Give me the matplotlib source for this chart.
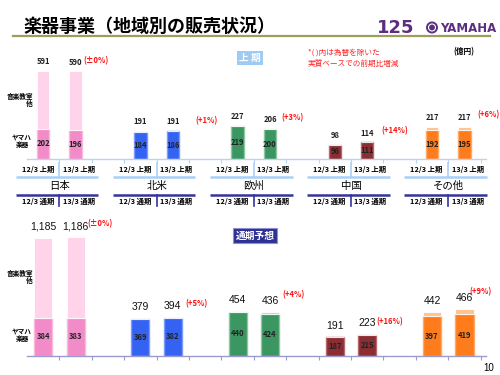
import matplotlib as mpl
import numpy as np
from matplotlib import pyplot as plt
from matplotlib import transforms
from matplotlib.patches import Circle

plt.rcParams['font.family'] = ['Noto Sans CJK JP', 'DejaVu Sans']

regions = ['日本', '北米', '欧州', '中国', 'その他']

# first half (上期): total and Yamaha-instrument part
h1_total_prev = [591, 191, 227, 98, 217]
h1_total_curr = [590, 191, 206, 114, 217]
h1_inst_prev = [202, 184, 219, 96, 192]
h1_inst_curr = [196, 186, 200, 111, 195]
h1_change = ['(±0%)', '(+1%)', '(+3%)', '(+14%)', '(+6%)']

# full year forecast (通期予想)
fy_total_prev = [1185, 379, 454, 191, 442]
fy_total_curr = [1186, 394, 436, 223, 466]
fy_inst_prev = [384, 369, 440, 187, 397]
fy_inst_curr = [383, 382, 424, 215, 419]
fy_change = ['(±0%)', '(+5%)', '(+4%)', '(+16%)', '(+9%)']

h1_periods = ['12/3 上期', '13/3 上期']
fy_periods = ['12/3 通期', '13/3 通期']

# outer (音楽教室他), inner (ヤマハ楽器), inner edge
colors = [('#FFD3EA', '#F28CC8', '#F9B8DC'),
          ('#9DB6FF', '#3462F2', '#7F9CF8'),
          ('#B9DEC6', '#3C9662', '#8CC7A2'),
          ('#C98A8A', '#8A2E34', '#B76A6E'),
          ('#FFC494', '#FF7C1C', '#FFAA66')]

PX = 0.72  # points per pixel at dpi 100


def draw_panel(ax, tot_prev, tot_curr, inst_prev, inst_curr, changes, width,
               total_kw, inner_kw, total_dy, pct_dx, pct_dy, axis_color):
	for g in range(len(regions)):
		outer_c, inner_c, edge_c = colors[g]
		pairs = [(tot_prev[g], inst_prev[g]), (tot_curr[g], inst_curr[g])]
		for k, (tot, inst) in enumerate(pairs):
			x = g * 3 + k
			ax.bar(x, inst, width=width, color=inner_c, edgecolor=edge_c, linewidth=1.0)
			ax.bar(x, tot - inst, bottom=inst, width=width, color=outer_c, edgecolor='white', linewidth=0.6)
			ax.annotate(f'{tot:,}', (x, tot), xytext=(0, total_dy * PX), textcoords='offset points',
			            ha='center', va='center', **total_kw)
			ax.text(x, inst / 2, str(inst), ha='center', va='center', **inner_kw)
		ax.annotate(changes[g], (g * 3 + 1, tot_curr[g]), xytext=(pct_dx[g] * PX, pct_dy[g] * PX),
		            textcoords='offset points', ha='left', va='center', color='#FF1010',
		            fontsize=5.5, fontweight='bold')
	ax.set_xlim(-0.5, 13.65)
	for s in ['top', 'right', 'left']:
		ax.spines[s].set_visible(False)
	ax.spines['bottom'].set_color(axis_color)
	ax.spines['bottom'].set_linewidth(1.0)
	ax.set_yticks([])
	ax.set_xticks(np.arange(0.5, 13.6, 1))
	ax.tick_params(axis='x', length=3, color=axis_color, labelbottom=False)
	ax.patch.set_alpha(0)


fig = plt.figure(figsize=(5, 3.75), dpi=100)
fig.patch.set_facecolor('white')

ax1 = fig.add_axes([27 / 500, 1 - 159 / 375, 458.5 / 500, 99 / 375])
ax1.set_ylim(0, 99 / 0.149)
draw_panel(ax1, h1_total_prev, h1_total_curr, h1_inst_prev, h1_inst_curr, h1_change, 0.38,
           dict(fontsize=5.5, fontweight='bold', color='#222222'),
           dict(fontsize=5.5, fontweight='bold', color='#222222'),
           9, [8, 23, 11, 14, 13], [10, 10, 11, 11, 12], '#B8D4F4')

ax2 = fig.add_axes([27 / 500, 1 - 356 / 375, 458.5 / 500, 126 / 375])
ax2.set_ylim(0, 126 / 0.1)
draw_panel(ax2, fy_total_prev, fy_total_curr, fy_inst_prev, fy_inst_curr, fy_change, 0.56,
           dict(fontsize=7.5, family='Liberation Sans', color='#111111'),
           dict(fontsize=5.5, fontweight='bold', color='#222222'),
           11, [12, 13, 12, 9, 5], [14, 13, 18, 12, 18], '#9A9ACC')

# overlay in pixel coordinates for slide decorations
ov = fig.add_axes([0, 0, 1, 1])
ov.set_xlim(0, 500)
ov.set_ylim(375, 0)
ov.axis('off')
ov.patch.set_alpha(0)

ov.text(23, 26, '楽器事業（地域別の販売状況）', fontsize=13, fontweight='bold', va='center', ha='left')
ov.plot([13, 490], [36, 36], color='#9E9E5C', lw=1.6)

purple = '#5C2D80'
ov.text(377, 28, '125', fontsize=13, fontweight='heavy', color=purple,
        family='DejaVu Sans', va='center', ha='left')
ov.add_patch(Circle((432, 27.5), 6, fc=purple, ec='none'))
ov.add_patch(Circle((432, 27.5), 3.5, fc='none', ec='white', lw=0.8))
ov.text(440, 28, 'YAMAHA', fontsize=8.5, fontweight='bold', color=purple,
        family='DejaVu Sans', va='center', ha='left')

ov.text(308, 53, '*( )内は為替を除いた', fontsize=5.5, color='#FF2020', va='center')
ov.text(308, 64, '実質ベースでの前期比増減', fontsize=5.5, color='#FF2020', va='center')
ov.text(464, 52, '(億円)', fontsize=5.5, fontweight='bold', va='center', ha='center')

ov.text(250, 58, '上 期', fontsize=7, fontweight='bold', color='white', ha='center', va='center',
        bbox=dict(boxstyle='square,pad=0.25', fc='#9ECBF2', ec='none'))
ov.text(255, 235.5, '通期予想', fontsize=7, fontweight='bold', color='white', ha='center', va='center',
        bbox=dict(boxstyle='square,pad=0.3', fc='#2E3192', ec='#9090D0', lw=0.8))

# side labels
for y_top, y_bot in [(100, 141), (277, 335)]:
	ov.text(33, y_top, '音楽教室\n他', fontsize=4.8, fontweight='bold', ha='right', va='center',
	        multialignment='right', linespacing=1.0)
	ov.text(32, y_bot, 'ヤマハ\n楽器', fontsize=4.8, fontweight='bold', ha='right', va='center',
	        multialignment='center', linespacing=1.0)

# category rows under the first-half chart
tr = transforms.blended_transform_factory(ax1.transData, ov.transData)
for g, name in enumerate(regions):
	left, right, sep = g * 3 - 0.85, g * 3 + 1.7, g * 3 + 0.5
	ov.plot([left, right], [177, 177], color='#A8D0F8', lw=1.8, transform=tr, solid_capstyle='butt')
	ov.plot([sep, sep], [163, 177], color='#A8D0F8', lw=1.2, transform=tr)
	ov.text(g * 3 - 0.17, 169.5, h1_periods[0], fontsize=5.3, fontweight='bold', ha='center', va='center', transform=tr)
	ov.text(g * 3 + 1.1, 169.5, h1_periods[1], fontsize=5.3, fontweight='bold', ha='center', va='center', transform=tr)
	ov.text(sep, 186, name, fontsize=7.5, ha='center', va='center', transform=tr)
	ov.plot([left, right], [195, 195], color='#343499', lw=1.8, transform=tr, solid_capstyle='butt')
	ov.plot([sep, sep], [195, 206], color='#343499', lw=1.2, transform=tr)
	ov.text(g * 3 - 0.17, 201.5, fy_periods[0], fontsize=5.3, fontweight='bold', ha='center', va='center', transform=tr)
	ov.text(g * 3 + 1.1, 201.5, fy_periods[1], fontsize=5.3, fontweight='bold', ha='center', va='center', transform=tr)

ov.text(489, 368, '10', fontsize=7, ha='center', va='center', family='Liberation Sans')

plt.savefig('out.png', dpi=100)
plt.close()
